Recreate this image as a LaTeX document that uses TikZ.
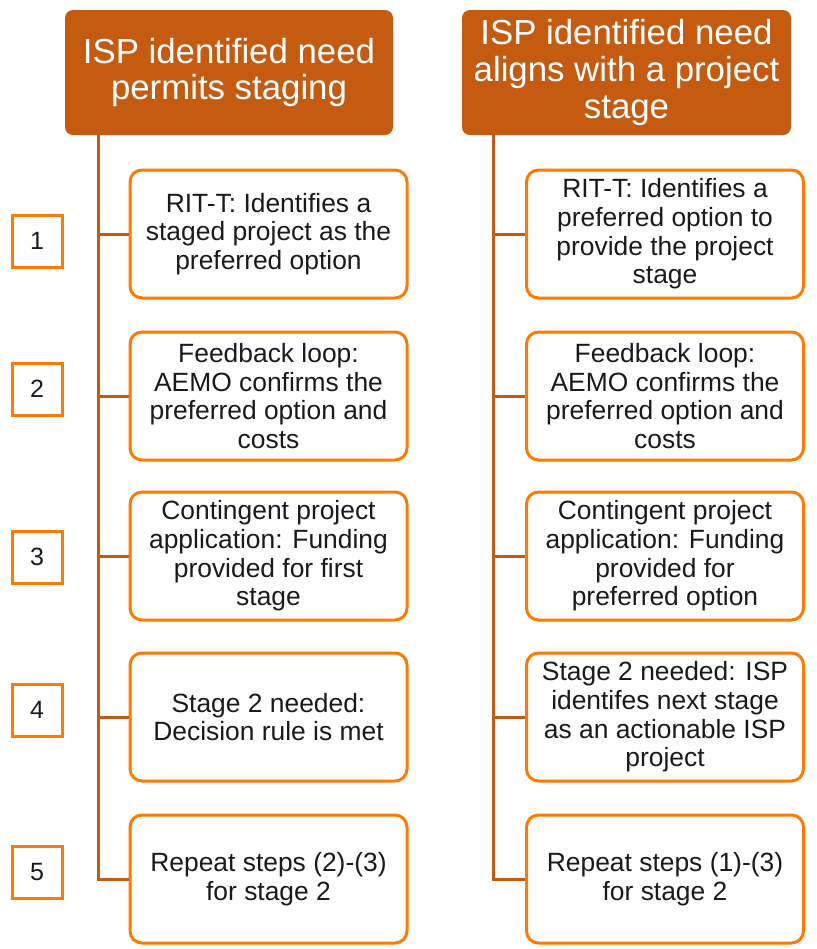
\documentclass[tikz,border=0pt]{standalone}
\usepackage{fontspec}
\setmainfont{Liberation Sans}
\definecolor{hdrfill}{HTML}{C55A11}
\definecolor{boxline}{HTML}{FF7A00}
\definecolor{txt}{HTML}{1A1A1A}

\begin{document}
\begin{tikzpicture}[x=0.5pt,y=-0.5pt,
    head/.style={fill=hdrfill,rounded corners=4pt,text=white,align=center,
        font=\fontsize{17.4}{18.4}\selectfont,minimum height=62.5pt,inner sep=0pt},
    stepbox/.style={draw=boxline,line width=1.5pt,rounded corners=6pt,fill=white,
        text=txt,align=center,font=\fontsize{13.2}{14.3}\selectfont,
        minimum width=138.5pt,minimum height=64pt,inner sep=0pt},
    num/.style={draw=boxline,line width=1.5pt,text=txt,
        font=\fontsize{12.5}{14}\selectfont,minimum width=25pt,minimum height=26pt,inner sep=0pt},
    link/.style={draw=hdrfill,line width=1.5pt}]
    \useasboundingbox (0,0) rectangle (816,949);
    % headers
    \node[head,minimum width=164pt] (hL) at (229,72.5) {ISP identified need\\permits staging};
    \node[head,minimum width=164.5pt] (hR) at (626.5,72.5) {ISP identified need\\aligns with a project\\stage};
    % step numbers
    \node[num] (n1) at (37,241) {1};
    \node[num] (n2) at (37,389) {2};
    \node[num] (n3) at (37,557) {3};
    \node[num] (n4) at (37,710) {4};
    \node[num] (n5) at (37,872) {5};
    % left column
    \node[stepbox] (L1) at (268.5,234) {RIT-T: Identifies a\\staged project as the\\preferred option};
    \node[stepbox] (L2) at (268.5,396) {Feedback loop:\\AEMO confirms the\\preferred option and\\costs};
    \node[stepbox] (L3) at (268.5,556) {Contingent project\\application: Funding\\provided for first\\stage};
    \node[stepbox] (L4) at (268.5,717) {Stage 2 needed:\\Decision rule is met};
    \node[stepbox] (L5) at (268.5,879) {Repeat steps (2)-(3)\\for stage 2};
    % right column
    \node[stepbox] (R1) at (665,234) {RIT-T: Identifies a\\preferred option to\\provide the project\\stage};
    \node[stepbox] (R2) at (665,396) {Feedback loop:\\AEMO confirms the\\preferred option and\\costs};
    \node[stepbox] (R3) at (665,556) {Contingent project\\application: Funding\\provided for\\preferred option};
    \node[stepbox] (R4) at (665,717) {Stage 2 needed: ISP\\identifes next stage\\as an actionable ISP\\project};
    \node[stepbox] (R5) at (665,879) {Repeat steps (1)-(3)\\for stage 2};
    % trunks
    \coordinate (tL) at (98,0);
    \coordinate (tR) at (493,0);
    \draw[link] (hL.south -| tL) |- (L5.west);
    \draw[link] (hR.south -| tR) |- (R5.west);
    \foreach \i in {1,...,4}{
        \draw[link] (tL |- L\i.west) -- (L\i.west);
        \draw[link] (tR |- R\i.west) -- (R\i.west);
    }
\end{tikzpicture}
\end{document}
